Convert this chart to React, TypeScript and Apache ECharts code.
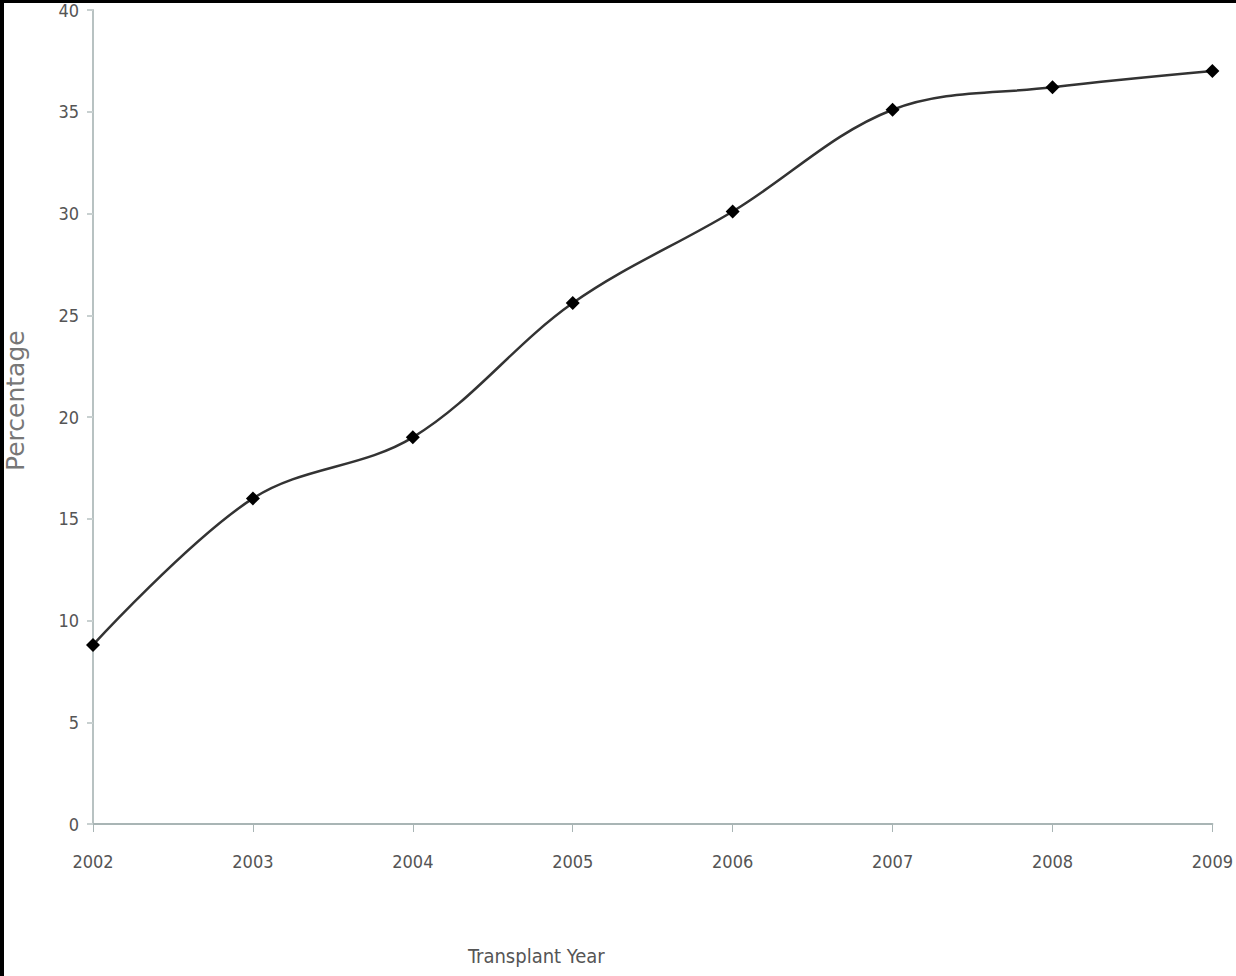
import React, { useEffect, useRef } from "react";
import * as echarts from "echarts";

const years = ["2002", "2003", "2004", "2005", "2006", "2007", "2008", "2009"];
const percentages = [8.8, 16.0, 19.0, 25.6, 30.1, 35.1, 36.2, 37.0];
const yTicks = [0, 5, 10, 15, 20, 25, 30, 35, 40];

const FONT = "'Liberation Sans Narrow', 'DejaVu Sans Condensed', Arial, sans-serif";

export default function App() {
  const ref = useRef<HTMLDivElement>(null);
  useEffect(() => {
    if (!ref.current) return;
    const chart = echarts.init(ref.current, undefined, { renderer: "svg" });
    chart.setOption({
      animation: false,
      backgroundColor: "#ffffff",
      grid: { left: 93, right: 21, top: 10, bottom: 152, containLabel: false },
      xAxis: {
        type: "category",
        data: years,
        boundaryGap: false,
        axisLine: { lineStyle: { color: "#a9b5b5", width: 2 } },
        axisTick: { show: true, alignWithLabel: true, length: 8, lineStyle: { color: "#a9b5b5", width: 1 } },
        axisLabel: { color: "#555", fontFamily: FONT, fontSize: 18, margin: 28 },
        splitLine: { show: false },
      },
      yAxis: {
        type: "value",
        min: yTicks[0],
        max: yTicks[yTicks.length - 1],
        interval: 5,
        axisLine: { show: true, lineStyle: { color: "#b8c2c2", width: 2 } },
        axisTick: { show: true, inside: false, length: 6, lineStyle: { color: "#c8d0d0", width: 2 } },
        axisLabel: { color: "#555", fontFamily: FONT, fontSize: 18, margin: 14 },
        splitLine: { show: false },
      },
      graphic: [
        { type: "rect", left: 0, top: 0, shape: { width: 1236, height: 3 }, style: { fill: "#000" } },
        { type: "rect", left: 0, top: 0, shape: { width: 4, height: 976 }, style: { fill: "#000" } },
        {
          type: "text",
          left: 468,
          top: 946,
          style: { text: "Transplant Year", fill: "#555", font: `20px ${FONT}` },
        },
        {
          type: "text",
          x: 3,
          y: 471,
          rotation: Math.PI / 2,
          style: { text: "Percentage", fill: "#777", font: `25px 'DejaVu Sans', sans-serif` },
        },
      ],
      series: [
        {
          type: "line",
          data: percentages,
          smooth: 0.35,
          symbol: "diamond",
          symbolSize: 14,
          itemStyle: { color: "#000" },
          lineStyle: { color: "#333", width: 2.5 },
        },
      ],
    });
    return () => chart.dispose();
  }, []);
  return (
    <div
      ref={ref}
      style={{ position: "absolute", left: 0, top: 0, width: 1236, height: 976 }}
    />
  );
}
